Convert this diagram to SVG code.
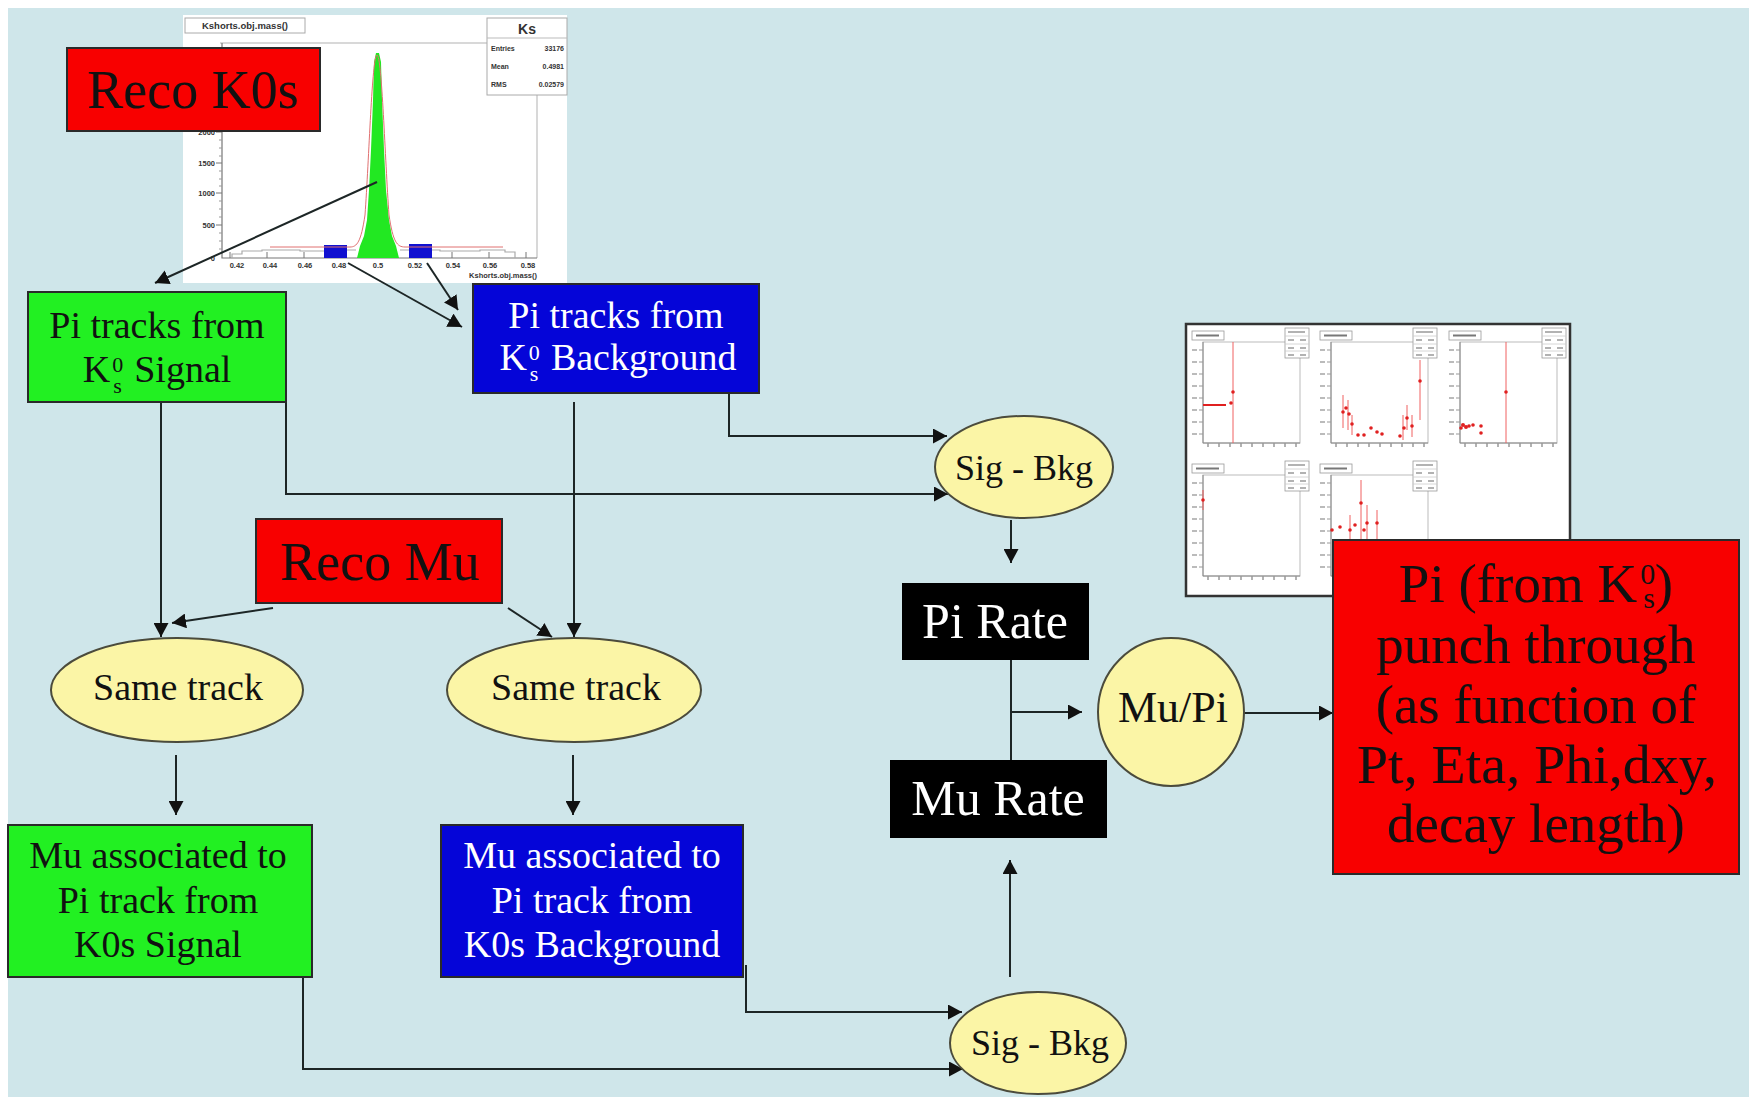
<svg xmlns="http://www.w3.org/2000/svg" width="1749" height="1097" viewBox="0 0 1749 1097">
  <defs>
    <marker id="arrow" markerUnits="userSpaceOnUse" markerWidth="15" markerHeight="15" refX="14" refY="7.5" orient="auto">
      <path d="M0,0 L14,7.5 L0,15 z" fill="#111"/>
    </marker>
    <!-- one panel of the rate plots grid: frame, title tab, stats box, ticks -->
    <g id="panel">
      <rect x="6" y="7" width="32" height="9" fill="#fff" stroke="#999" stroke-width="0.8"/>
      <path d="M10,11.5 H33" stroke="#777" stroke-width="2"/>
      <rect x="17" y="18" width="97" height="101" fill="#fff" stroke="#bbb" stroke-width="1"/>
      <path d="M17,18 V119 H114" fill="none" stroke="#888" stroke-width="1"/>
      <path d="M13,26 H17 M13,38 H17 M13,50 H17 M13,62 H17 M13,74 H17 M13,86 H17 M13,98 H17 M13,110 H17" stroke="#999" stroke-width="1"/>
      <path d="M6,26 H11 M6,38 H11 M6,50 H11 M6,62 H11 M6,74 H11 M6,86 H11 M6,98 H11 M6,110 H11" stroke="#bbb" stroke-width="2"/>
      <path d="M22,119 V123 M33,119 V123 M44,119 V123 M55,119 V123 M66,119 V123 M77,119 V123 M88,119 V123 M99,119 V123 M110,119 V123" stroke="#999" stroke-width="1.5"/>
      <rect x="99" y="4" width="24" height="30" fill="#fff" stroke="#999" stroke-width="0.8"/>
      <path d="M99,12 H123 M99,20 H123 M99,27 H123" stroke="#ccc" stroke-width="0.8"/>
      <path d="M102,8 H119 M102,16 H108 M114,16 H120 M102,24 H108 M114,24 H120 M102,31 H108 M114,31 H120" stroke="#999" stroke-width="1.5"/>
    </g>
  </defs>
  <style>
    .bg{fill:#cfe6ea}
    .box{stroke:#2a2a2a;stroke-width:2}
    .red{fill:#f80000}
    .green{fill:#22f022}
    .blue{fill:#0505d8}
    .dark{fill:#000}
    .oval{fill:#fbf5a6;stroke:#4b4b3c;stroke-width:2}
    .t{font-family:"Liberation Serif","Times New Roman",serif;text-anchor:middle;fill:#111}
    .w{fill:#fff}
    .conn{fill:none;stroke:#1d2626;stroke-width:2}
    .arr{marker-end:url(#arrow)}
    .hs{font-family:"Liberation Sans",Arial,sans-serif;font-weight:bold;fill:#333}
    .pt{fill:#e02020}
    .eb{stroke:#f06060;stroke-width:1}
  </style>

  <!-- page -->
  <rect width="1749" height="1097" fill="#fff"/>
  <rect class="bg" x="8" y="8" width="1741" height="1089"/>

  <!-- K0s invariant mass histogram -->
  <g id="ks-mass-plot">
    <rect x="183" y="15" width="384" height="268" fill="#fff"/>
    <rect x="185" y="18" width="120" height="15" fill="#fff" stroke="#aaa" stroke-width="1"/>
    <text class="hs" x="245" y="29" font-size="9.5" text-anchor="middle">Kshorts.obj.mass()</text>
    <path d="M220,43 H537 V258" fill="none" stroke="#ccc" stroke-width="1.5"/>
    <path d="M222,43 V258 H537" fill="none" stroke="#777" stroke-width="1.2"/>
    <path d="M219,52 H222 M219,60 H222 M219,68 H222 M219,76 H222 M219,84 H222 M219,92 H222 M219,100 H222 M219,108 H222 M219,116 H222 M219,124 H222 M219,140 H222 M219,148 H222 M219,156 H222 M219,171 H222 M219,179 H222 M219,186 H222 M219,201 H222 M219,209 H222 M219,217 H222 M219,233 H222 M219,241 H222 M219,249 H222" stroke="#999" stroke-width="1"/>
    <path d="M216,132 H222 M216,163 H222 M216,193 H222 M216,225 H222" stroke="#777" stroke-width="1"/>
    <path d="M230,258 V252 M267,258 V252 M304,258 V252 M341,258 V252 M378,258 V252 M415,258 V252 M452,258 V252 M489,258 V252 M526,258 V252" stroke="#777" stroke-width="1"/>
    <g class="hs" font-size="7.5" text-anchor="end">
      <text x="215" y="135">2000</text>
      <text x="215" y="166">1500</text>
      <text x="215" y="196">1000</text>
      <text x="215" y="228">500</text>
      <text x="215" y="261">0</text>
    </g>
    <g class="hs" font-size="7.5" text-anchor="middle">
      <text x="237" y="268">0.42</text>
      <text x="270" y="268">0.44</text>
      <text x="305" y="268">0.46</text>
      <text x="339" y="268">0.48</text>
      <text x="378" y="268">0.5</text>
      <text x="415" y="268">0.52</text>
      <text x="453" y="268">0.54</text>
      <text x="490" y="268">0.56</text>
      <text x="528" y="268">0.58</text>
    </g>
    <text class="hs" x="537" y="278" font-size="7.5" text-anchor="end">Kshorts.obj.mass()</text>
    <!-- data outline -->
    <path d="M232,258 V254 H242 V251 H262 V250 H300 V251 H340 V250 H356 M400,250 H440 V251 H480 V250 H505 V252 H515 V258" fill="none" stroke="#aaa" stroke-width="1.2"/>
    <!-- side bands -->
    <rect x="324" y="245" width="23" height="13" fill="#1010d0"/>
    <rect x="409" y="244" width="23" height="14" fill="#1010d0"/>
    <!-- signal peak -->
    <path d="M357,258 L360,246 L364,236 L367,220 L369,190 L371,150 L373,100 L374,62 L376,53 L379,53 L381,62 L382,100 L384,150 L386,190 L389,220 L392,236 L396,246 L399,258 Z" fill="#22e822"/>
    <!-- fit -->
    <path d="M270,247 H350 C357,247 361,242 365,215 C369,160 372,55 377,55 C382,55 385,160 389,215 C393,242 397,247 405,247 H503" fill="none" stroke="#e07070" stroke-width="1"/>
    <!-- stats box -->
    <rect x="487" y="18" width="80" height="77" fill="#fff" stroke="#aaa" stroke-width="1"/>
    <path d="M487,38 H567" stroke="#bbb" stroke-width="1"/>
    <text class="hs" x="527" y="34" font-size="14" text-anchor="middle" fill="#222">Ks</text>
    <g class="hs" font-size="7">
      <text x="491" y="51">Entries</text>
      <text x="564" y="51" text-anchor="end">33176</text>
      <text x="491" y="69">Mean</text>
      <text x="564" y="69" text-anchor="end">0.4981</text>
      <text x="491" y="87">RMS</text>
      <text x="564" y="87" text-anchor="end">0.02579</text>
    </g>
  </g>

  <!-- punch-through rate plots -->
  <g id="rate-plots">
    <rect x="1186" y="324" width="384" height="272" fill="#fff" stroke="#333" stroke-width="2.5"/>
    <use href="#panel" x="1186" y="324"/>
    <use href="#panel" x="1314" y="324"/>
    <use href="#panel" x="1443" y="324"/>
    <use href="#panel" x="1186" y="457"/>
    <use href="#panel" x="1314" y="457"/>
    <!-- panel 1 -->
    <path d="M1233,342 V443" class="eb"/>
    <path d="M1203,405 H1226" stroke="#e02020" stroke-width="2"/>
    <circle class="pt" cx="1231" cy="403" r="1.8"/>
    <circle class="pt" cx="1233" cy="392" r="1.8"/>
    <!-- panel 2 -->
    <path d="M1343,395 V428 M1348,400 V430 M1352,415 V435 M1403,415 V440 M1407,405 V430 M1412,415 V437 M1420,360 V420" class="eb"/>
    <g class="pt">
      <circle cx="1343" cy="412" r="1.8"/><circle cx="1346" cy="408" r="1.8"/><circle cx="1349" cy="414" r="1.8"/>
      <circle cx="1352" cy="424" r="1.8"/><circle cx="1358" cy="435" r="1.8"/><circle cx="1364" cy="435" r="1.8"/>
      <circle cx="1371" cy="428" r="1.8"/><circle cx="1377" cy="432" r="1.8"/><circle cx="1382" cy="434" r="1.8"/>
      <circle cx="1400" cy="436" r="1.8"/><circle cx="1404" cy="428" r="1.8"/><circle cx="1407" cy="418" r="1.8"/>
      <circle cx="1412" cy="426" r="1.8"/><circle cx="1420" cy="381" r="1.8"/>
    </g>
    <!-- panel 3 -->
    <path d="M1506,342 V443" class="eb"/>
    <g class="pt">
      <circle cx="1506" cy="392" r="1.8"/>
      <circle cx="1461" cy="428" r="1.8"/><circle cx="1463" cy="425" r="2"/><circle cx="1466" cy="427" r="2"/>
      <circle cx="1469" cy="426" r="1.8"/><circle cx="1473" cy="425" r="1.8"/><circle cx="1481" cy="426" r="1.8"/>
      <circle cx="1481" cy="433" r="1.8"/>
    </g>
    <!-- panel 4 -->
    <path d="M1203,490 V510" class="eb"/>
    <circle class="pt" cx="1203" cy="500" r="1.8"/>
    <!-- panel 5 -->
    <path d="M1361,480 V540 M1350,515 V540 M1367,505 V540 M1377,510 V540" class="eb"/>
    <g class="pt">
      <circle cx="1332" cy="530" r="1.8"/><circle cx="1340" cy="527" r="1.8"/><circle cx="1350" cy="530" r="1.8"/>
      <circle cx="1355" cy="525" r="1.8"/><circle cx="1361" cy="503" r="1.8"/><circle cx="1364" cy="530" r="1.8"/>
      <circle cx="1367" cy="523" r="1.8"/><circle cx="1377" cy="523" r="1.8"/>
    </g>
  </g>

  <!-- connectors -->
  <g id="connectors">
    <path class="conn arr" d="M377,182 L155,283"/>
    <path class="conn arr" d="M348,263 L462,327"/>
    <path class="conn arr" d="M427,263 L458,310"/>
    <path class="conn arr" d="M161,402 V637"/>
    <path class="conn arr" d="M286,402 V494 H948"/>
    <path class="conn arr" d="M729,393 V436 H947"/>
    <path class="conn arr" d="M574,402 V637"/>
    <path class="conn arr" d="M273,608 L172,623"/>
    <path class="conn arr" d="M508,608 L552,637"/>
    <path class="conn arr" d="M176,755 V815"/>
    <path class="conn arr" d="M573,755 V815"/>
    <path class="conn arr" d="M303,977 V1069 H963"/>
    <path class="conn arr" d="M746,965 V1012 H962"/>
    <path class="conn arr" d="M1010,977 V860"/>
    <path class="conn arr" d="M1011,520 V563"/>
    <path class="conn" d="M1011,660 V760"/>
    <path class="conn arr" d="M1011,712 H1082"/>
    <path class="conn arr" d="M1244,713 H1333"/>
  </g>

  <!-- nodes -->
  <g id="reco-k0s">
    <rect class="box red" x="67" y="48" width="253" height="83"/>
    <text class="t" x="193" y="108" font-size="54">Reco K0s</text>
  </g>

  <g id="pi-tracks-signal">
    <rect class="box green" x="28" y="292" width="258" height="110"/>
    <text class="t" x="157" y="338" font-size="38">Pi tracks from</text>
    <text class="t" x="157" y="382" font-size="38">K<tspan font-size="22" dx="2" dy="-10">0</tspan><tspan font-size="22" dx="-10" dy="21">s</tspan><tspan dx="3" dy="-11"> Signal</tspan></text>
  </g>

  <g id="pi-tracks-background">
    <rect class="box blue" x="473" y="284" width="286" height="109"/>
    <text class="t w" x="616" y="328" font-size="38">Pi tracks from</text>
    <text class="t w" x="618" y="370" font-size="38">K<tspan font-size="22" dx="2" dy="-10">0</tspan><tspan font-size="22" dx="-10" dy="21">s</tspan><tspan dx="3" dy="-11"> Background</tspan></text>
  </g>

  <g id="sig-bkg-pi">
    <ellipse class="oval" cx="1024" cy="467" rx="89" ry="51"/>
    <text class="t" x="1024" y="480" font-size="36">Sig - Bkg</text>
  </g>

  <g id="reco-mu">
    <rect class="box red" x="256" y="519" width="246" height="84"/>
    <text class="t" x="380" y="580" font-size="54">Reco Mu</text>
  </g>

  <g id="same-track-signal">
    <ellipse class="oval" cx="177" cy="690" rx="126" ry="52"/>
    <text class="t" x="178" y="700" font-size="38">Same track</text>
  </g>

  <g id="same-track-background">
    <ellipse class="oval" cx="574" cy="690" rx="127" ry="52"/>
    <text class="t" x="576" y="700" font-size="38">Same track</text>
  </g>

  <g id="mu-signal">
    <rect class="box green" x="8" y="825" width="304" height="152"/>
    <text class="t" x="158" y="868" font-size="38">Mu associated to</text>
    <text class="t" x="158" y="913" font-size="38">Pi track from</text>
    <text class="t" x="158" y="957" font-size="38">K0s Signal</text>
  </g>

  <g id="mu-background">
    <rect class="box blue" x="441" y="825" width="302" height="152"/>
    <text class="t w" x="592" y="868" font-size="38">Mu associated to</text>
    <text class="t w" x="592" y="913" font-size="38">Pi track from</text>
    <text class="t w" x="592" y="957" font-size="38">K0s Background</text>
  </g>

  <g id="sig-bkg-mu">
    <ellipse class="oval" cx="1038" cy="1043" rx="88" ry="51"/>
    <text class="t" x="1040" y="1055" font-size="36">Sig - Bkg</text>
  </g>

  <g id="pi-rate">
    <rect class="dark" x="902" y="583" width="187" height="77"/>
    <text class="t w" x="995" y="638" font-size="50">Pi Rate</text>
  </g>

  <g id="mu-rate">
    <rect class="dark" x="890" y="760" width="217" height="78"/>
    <text class="t w" x="998" y="815" font-size="50">Mu Rate</text>
  </g>

  <g id="mu-over-pi">
    <ellipse class="oval" cx="1171" cy="712" rx="73" ry="74"/>
    <text class="t" x="1173" y="722" font-size="44">Mu/Pi</text>
  </g>

  <g id="punch-through">
    <rect class="box red" x="1333" y="540" width="406" height="334"/>
    <text class="t" x="1536" y="602" font-size="55">Pi (from K<tspan font-size="30" dx="3" dy="-18">0</tspan><tspan font-size="30" dx="-12" dy="24">s</tspan><tspan dx="0" dy="-6">)</tspan></text>
    <text class="t" x="1536" y="663" font-size="55">punch through</text>
    <text class="t" x="1536" y="723" font-size="55">(as function of</text>
    <text class="t" x="1537" y="783" font-size="55" textLength="360" lengthAdjust="spacingAndGlyphs">Pt, Eta, Phi,dxy,</text>
    <text class="t" x="1536" y="842" font-size="55">decay length)</text>
  </g>
</svg>
